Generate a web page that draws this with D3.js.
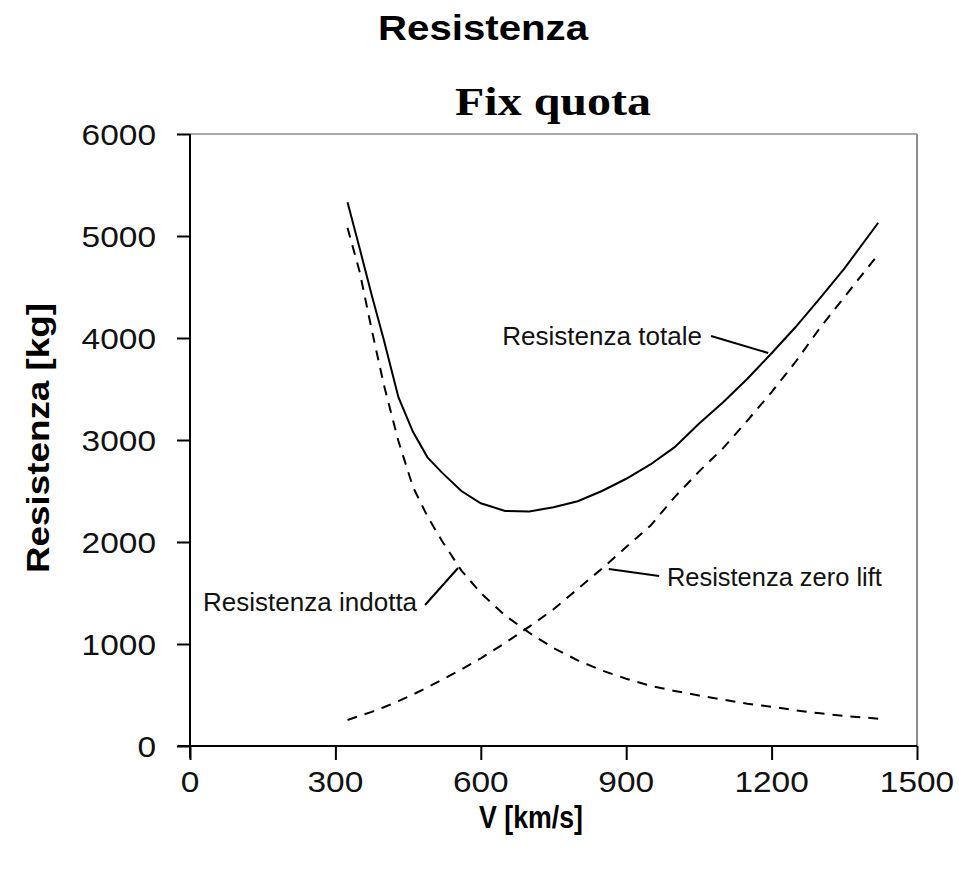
<!DOCTYPE html>
<html>
<head>
<meta charset="utf-8">
<script src="https://cdn.jsdelivr.net/npm/d3@7"></script>
<style>
  html, body { margin: 0; padding: 0; background: #fff; }
  svg { display: block; }
</style>
</head>
<body>
<svg id="chart" width="959" height="886"></svg>
<script>
// ---- data ----
const velocity = [325, 350, 375, 400, 430, 460, 490, 520, 560, 600, 650, 700, 750, 800, 850, 900, 950, 1000, 1050, 1100, 1150, 1200, 1250, 1300, 1350, 1420];
const resistenzaTotale = [5330, 4880, 4420, 3980, 3420, 3080, 2830, 2680, 2500, 2380, 2305, 2300, 2340, 2400, 2500, 2620, 2760, 2930, 3160, 3370, 3600, 3850, 4110, 4390, 4680, 5130];
const resistenzaIndotta = [5080, 4650, 4080, 3540, 2990, 2540, 2250, 2010, 1720, 1500, 1280, 1110, 960, 840, 740, 660, 590, 540, 495, 455, 415, 385, 350, 320, 295, 268];
const resistenzaZeroLift = [255, 295, 335, 380, 440, 505, 575, 650, 750, 860, 1010, 1170, 1340, 1540, 1740, 1950, 2160, 2440, 2690, 2920, 3190, 3470, 3770, 4100, 4400, 4820];
const xTicks = [0, 300, 600, 900, 1200, 1500];
const yTicks = [0, 1000, 2000, 3000, 4000, 5000, 6000];
const chartTitle = "Resistenza";
const plotTitle = "Fix quota";
const xLabel = "V [km/s]";
const yLabel = "Resistenza [kg]";
const labelTotale = "Resistenza totale";
const labelIndotta = "Resistenza indotta";
const labelZeroLift = "Resistenza zero lift";

// ---- layout ----
const svg = d3.select("#chart");
const x = d3.scaleLinear().domain([0, 1500]).range([190, 917]);
const y = d3.scaleLinear().domain([0, 6000]).range([746, 134]);
const SANS = "'Liberation Sans', Arial, sans-serif";
const SERIF = "'Liberation Serif', 'Times New Roman', serif";

// plot border (grey top / right)
svg.append("line").attr("x1", x(0)).attr("x2", x(1500)).attr("y1", y(6000)).attr("y2", y(6000))
  .attr("stroke", "#8c8c8c").attr("stroke-width", 1.5);
svg.append("line").attr("x1", x(1500)).attr("x2", x(1500)).attr("y1", y(6000)).attr("y2", y(0))
  .attr("stroke", "#8c8c8c").attr("stroke-width", 2);

// axes
const yAxis = d3.axisLeft(y).tickValues(yTicks).tickSize(13).tickFormat("");
const xAxis = d3.axisBottom(x).tickValues(xTicks).tickSize(14).tickFormat("");
const gy = svg.append("g").attr("transform", `translate(${x(0)},0)`).call(yAxis);
const gx = svg.append("g").attr("transform", `translate(0,${y(0)})`).call(xAxis);
[gx, gy].forEach(g => {
  g.select(".domain").remove();
  g.selectAll(".tick line").attr("stroke", "#000").attr("stroke-width", 2);
});
// axis lines (crossing at origin)
svg.append("line").attr("x1", x(0)).attr("x2", x(0)).attr("y1", y(6000)).attr("y2", y(0) + 12)
  .attr("stroke", "#000").attr("stroke-width", 2);
svg.append("line").attr("x1", x(0) - 12).attr("x2", x(1500)).attr("y1", y(0)).attr("y2", y(0))
  .attr("stroke", "#000").attr("stroke-width", 2);

function digitWidth(s) { return s.length * 18.6; }

// y tick labels
svg.append("g").selectAll("text").data(yTicks).join("text")
  .attr("x", 156).attr("y", d => y(d) + 11)
  .attr("text-anchor", "end")
  .attr("font-family", SANS).attr("font-size", 30).attr("fill", "#111")
  .attr("textLength", d => digitWidth(String(d))).attr("lengthAdjust", "spacingAndGlyphs")
  .text(d => d);

// x tick labels
svg.append("g").selectAll("text").data(xTicks).join("text")
  .attr("x", d => x(d)).attr("y", 792)
  .attr("text-anchor", "middle")
  .attr("font-family", SANS).attr("font-size", 30).attr("fill", "#111")
  .attr("textLength", d => digitWidth(String(d))).attr("lengthAdjust", "spacingAndGlyphs")
  .text(d => d);

// titles
svg.append("text").attr("x", 483).attr("y", 40).attr("text-anchor", "middle")
  .attr("font-family", SANS).attr("font-weight", "bold").attr("font-size", 35)
  .attr("textLength", 210).attr("lengthAdjust", "spacingAndGlyphs")
  .text(chartTitle);
svg.append("text").attr("x", 553).attr("y", 115).attr("text-anchor", "middle")
  .attr("font-family", SERIF).attr("font-weight", "bold").attr("font-size", 41)
  .attr("textLength", 196).attr("lengthAdjust", "spacingAndGlyphs")
  .text(plotTitle);

// axis labels
svg.append("text").attr("x", 531).attr("y", 828).attr("text-anchor", "middle")
  .attr("font-family", SANS).attr("font-weight", "bold").attr("font-size", 31)
  .attr("textLength", 104).attr("lengthAdjust", "spacingAndGlyphs")
  .text(xLabel);
svg.append("text").attr("transform", "translate(49,438) rotate(-90)").attr("text-anchor", "middle")
  .attr("font-family", SANS).attr("font-weight", "bold").attr("font-size", 32)
  .attr("textLength", 270).attr("lengthAdjust", "spacingAndGlyphs")
  .text(yLabel);

// series
const rows = velocity.map((v, i) => ({ v, tot: resistenzaTotale[i], ind: resistenzaIndotta[i], zl: resistenzaZeroLift[i] }));
const lineOf = key => d3.line().x(d => x(d.v)).y(d => y(d[key]));
svg.append("path").datum(rows).attr("d", lineOf("tot"))
  .attr("fill", "none").attr("stroke", "#000").attr("stroke-width", 2);
svg.append("path").datum(rows).attr("d", lineOf("ind"))
  .attr("fill", "none").attr("stroke", "#000").attr("stroke-width", 2).attr("stroke-dasharray", "10,8");
svg.append("path").datum(rows).attr("d", lineOf("zl"))
  .attr("fill", "none").attr("stroke", "#000").attr("stroke-width", 2).attr("stroke-dasharray", "10,8");

// annotations (positions in data units)
const annotations = [
  { text: labelTotale, tx: 644, ty: 3931, len: 200, p: [[1075, 4020], [1193, 3853]] },
  { text: labelZeroLift, tx: 984, ty: 1569, len: 215, p: [[864, 1735], [968, 1667]] },
  { text: labelIndotta, tx: 27, ty: 1324, len: 214, p: [[485, 1382], [553, 1745]] }
];
annotations.forEach(a => {
  svg.append("text").attr("x", x(a.tx)).attr("y", y(a.ty))
    .attr("font-family", SANS).attr("font-size", 26).attr("fill", "#111")
    .attr("textLength", a.len).attr("lengthAdjust", "spacingAndGlyphs")
    .text(a.text);
  svg.append("line")
    .attr("x1", x(a.p[0][0])).attr("y1", y(a.p[0][1]))
    .attr("x2", x(a.p[1][0])).attr("y2", y(a.p[1][1]))
    .attr("stroke", "#000").attr("stroke-width", 2);
});
</script>
</body>
</html>
